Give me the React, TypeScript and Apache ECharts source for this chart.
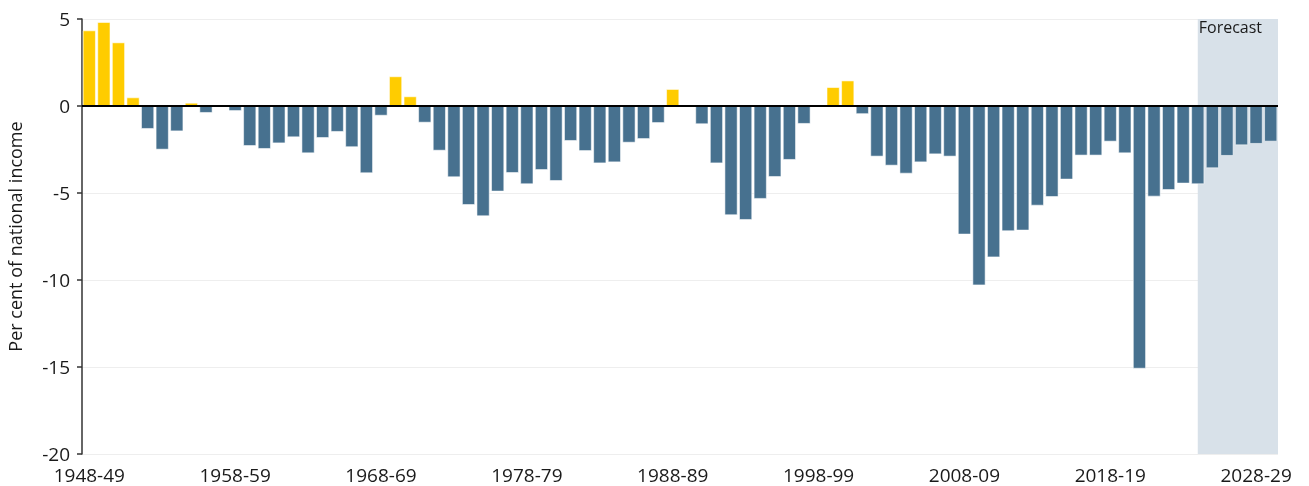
import React, { useEffect, useRef } from "react";
import * as echarts from "echarts";

const firstYear = 1948;
const lastYear = 2029;
const categories: string[] = [];
for (let y = firstYear; y <= lastYear; y++) {
  categories.push(`${y}-${String((y + 1) % 100).padStart(2, "0")}`);
}

const balance: number[] = [
  4.35, 4.83, 3.66, 0.5, -1.32, -2.51, -1.46, 0.19, -0.4, 0,
  -0.29, -2.3, -2.47, -2.15, -1.8, -2.72, -1.84, -1.49, -2.37, -3.87,
  -0.56, 1.71, 0.56, -0.96, -2.57, -4.1, -5.69, -6.34, -4.92, -3.85,
  -4.5, -3.68, -4.31, -2.01, -2.59, -3.3, -3.24, -2.11, -1.9, -0.98,
  0.98, 0, -1.05, -3.3, -6.28, -6.55, -5.34, -4.08, -3.1, -1.03,
  0, 1.09, 1.47, -0.47, -2.91, -3.43, -3.89, -3.24, -2.78, -2.91,
  -7.39, -10.31, -8.7, -7.2, -7.16, -5.73, -5.23, -4.23, -2.85, -2.85,
  -2.05, -2.72, -15.1, -5.21, -4.83, -4.46, -4.5, -3.58, -2.87, -2.26,
  -2.18, -2.05,
];

// Forecast band in bar-slot units (starts mid 2024-25, runs to end of axis)
const forecastBand: number[] = [76.5, 82];
const forecastLabel = "Forecast";
const yTicks = { min: -20, max: 5, interval: 5 };

const SURPLUS = "#FFCC00";
const DEFICIT = "#47718F";
const FONT = "'Open Sans', Lato, sans-serif";
const TEXT = "#1a1a1a";

export default function App() {
  const ref = useRef<HTMLDivElement>(null);
  useEffect(() => {
    if (!ref.current) return;
    const chart = echarts.init(ref.current, undefined, { renderer: "svg" });
    chart.setOption({
      animation: false,
      textStyle: { fontFamily: FONT },
      grid: {
        left: 82,
        right: 31,
        top: 19,
        bottom: 32,
        containLabel: false,
        outerBoundsMode: "none",
      },
      xAxis: [
        {
          type: "category",
          data: categories,
          boundaryGap: true,
          axisLine: { show: false, onZero: false },
          axisTick: { show: false },
          axisLabel: {
            interval: 9,
            fontSize: 19,
            lineHeight: 19,
            color: TEXT,
            margin: 11,
            fontFamily: FONT,
          },
          splitLine: { show: false },
        },
        {
          type: "value",
          min: 0,
          max: 82,
          show: false,
          position: "top",
        },
      ],
      yAxis: {
        type: "value",
        min: yTicks.min,
        max: yTicks.max,
        interval: yTicks.interval,
        name: "Per cent of national income",
        nameLocation: "middle",
        nameGap: 58,
        nameTextStyle: { fontSize: 18, color: TEXT, fontFamily: FONT },
        axisLine: { show: true, lineStyle: { color: "#333", width: 1.5 } },
        axisTick: { show: true, length: 5, lineStyle: { color: "#333", width: 1.5 } },
        axisLabel: {
          fontSize: 19,
          lineHeight: 17,
          color: TEXT,
          margin: 12,
          fontFamily: FONT,
        },
        splitLine: { show: true, lineStyle: { color: "#eeeeee", width: 1 } },
      },
      series: [
        {
          type: "line",
          xAxisIndex: 1,
          yAxisIndex: 0,
          data: [
            [forecastBand[0], 0],
            [forecastBand[1], 0],
          ],
          symbol: "none",
          lineStyle: { opacity: 0 },
          silent: true,
          z: 1,
          markArea: {
            silent: true,
            itemStyle: { color: "#D8E1E9" },
            label: { show: false },
            data: [
              [
                { xAxis: forecastBand[0], yAxis: yTicks.max },
                { xAxis: forecastBand[1], yAxis: yTicks.min },
              ],
            ],
          },
        },
        {
          type: "bar",
          xAxisIndex: 0,
          yAxisIndex: 0,
          z: 3,
          barCategoryGap: "9%",
          data: balance.map((v) => ({
            value: v,
            itemStyle: { color: v > 0 ? SURPLUS : DEFICIT },
          })),
          itemStyle: { borderColor: "rgba(255,255,255,0.55)", borderWidth: 1 },
          markLine: {
            silent: true,
            symbol: ["none", "none"],
            label: { show: false },
            lineStyle: { color: "#000", width: 2, type: "solid" },
            data: [{ yAxis: 0 }],
          },
        },
      ],
    });
    const pt = chart.convertToPixel({ xAxisIndex: 1, yAxisIndex: 0 }, [
      forecastBand[0],
      yTicks.max,
    ]) as number[];
    chart.setOption({
      graphic: [
        {
          type: "text",
          x: pt[0] + 1,
          y: pt[1] + 0,
          z: 10,
          style: {
            text: forecastLabel,
            fontSize: 16,
            fill: TEXT,
            fontFamily: FONT,
            textVerticalAlign: "top",
            textAlign: "left",
          },
        },
      ],
    });
    return () => chart.dispose();
  }, []);
  return (
    <div
      ref={ref}
      style={{ position: "fixed", left: 0, top: 0, width: 1309, height: 486 }}
    />
  );
}
